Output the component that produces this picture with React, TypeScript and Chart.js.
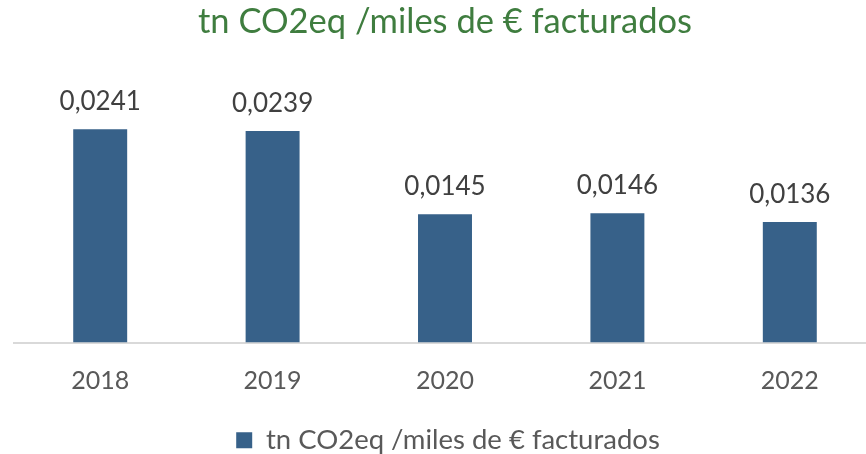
import React, { useEffect, useRef } from "react";
import { Chart, registerables } from "chart.js";

Chart.register(...registerables);

const categories: string[] = ["2018", "2019", "2020", "2021", "2022"];
const values: number[] = [0.0241, 0.0239, 0.0145, 0.0146, 0.0136];
const seriesLabel = "tn CO2eq /miles de € facturados";
const titleText = "tn CO2eq /miles de € facturados";

const FONT = "Lato, 'Open Sans', sans-serif";

const valueLabels = {
  id: "valueLabels",
  afterDatasetsDraw(chart: any) {
    const ctx = chart.ctx;
    const meta = chart.getDatasetMeta(0);
    ctx.save();
    ctx.font = `26px ${FONT}`;
    ctx.fillStyle = "#404040";
    ctx.textAlign = "center";
    ctx.textBaseline = "alphabetic";
    meta.data.forEach((bar: any, i: number) => {
      const v = chart.data.datasets[0].data[i] as number;
      const txt = v.toFixed(4).replace(".", ",");
      ctx.fillText(txt, bar.x, bar.y - 19);
    });
    ctx.restore();
  },
};

const legendShift = {
  id: "legendShift",
  afterLayout(chart: any) {
    if (chart.legend) {
      chart.legend.left += 3;
      chart.legend.right += 3;
      chart.legend.top += 10;
      chart.legend.bottom += 10;
    }
  },
};

export default function App() {
  const ref = useRef<HTMLCanvasElement | null>(null);
  useEffect(() => {
    if (!ref.current) return;
    const chart = new Chart(ref.current, {
      type: "bar",
      data: {
        labels: categories,
        datasets: [
          {
            label: seriesLabel,
            data: values,
            backgroundColor: "#376189",
            borderWidth: 0,
            barPercentage: 0.313,
            categoryPercentage: 1,
          },
        ],
      },
      options: {
        animation: false,
        responsive: false,
        devicePixelRatio: 1,
        layout: { padding: { left: 14, right: 4, top: 0, bottom: 0 } },
        plugins: {
          title: {
            display: true,
            text: titleText,
            color: "#3f7d3f",
            font: { family: FONT, size: 34.5, weight: "normal" },
            padding: { top: 1, bottom: 34.5 },
          },
          legend: {
            display: true,
            position: "bottom",
            labels: {
              color: "#595959",
              font: { family: FONT, size: 27.5 },
              boxWidth: 16,
              boxHeight: 16,
              padding: 0,
            },
          },
          tooltip: { enabled: false },
        },
        scales: {
          x: {
            grid: { display: false, drawTicks: false },
            border: { display: true, color: "#d9d9d9", width: 2 },
            ticks: {
              color: "#595959",
              font: { family: FONT, size: 25 },
              padding: 23,
            },
            afterFit: (scale: any) => {
              scale.height -= 2;
            },
          },
          y: {
            display: false,
            min: 0,
            max: 0.03,
          },
        },
      },
      plugins: [valueLabels, legendShift],
    });
    return () => chart.destroy();
  }, []);
  return (
    <div
      style={{
        position: "absolute",
        left: 0,
        top: 0,
        width: 866,
        height: 454,
        overflow: "hidden",
        background: "#ffffff",
      }}
    >
      <canvas ref={ref} width={880} height={454} style={{ width: 880, height: 454, display: "block" }} />
    </div>
  );
}
